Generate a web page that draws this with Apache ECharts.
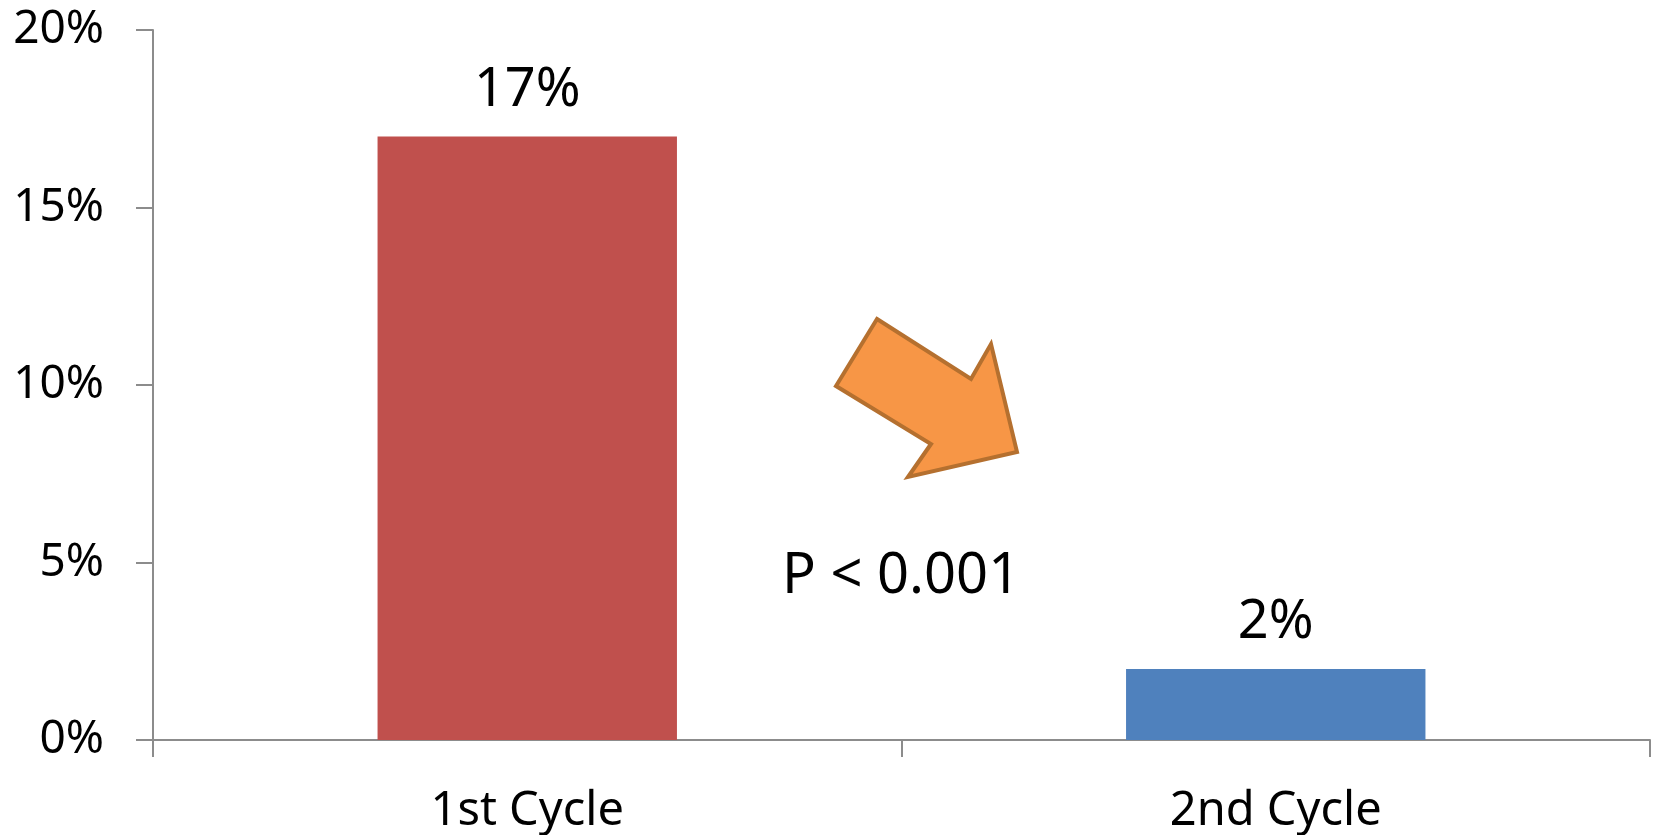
<!DOCTYPE html>
<html>
<head>
<meta charset="utf-8">
<title>Cycle comparison</title>
<script src="https://cdn.jsdelivr.net/npm/echarts@6/dist/echarts.min.js"></script>
<style>
  html, body { margin: 0; padding: 0; background: #ffffff; }
  #chart { width: 1656px; height: 835px; }
</style>
</head>
<body>
<div id="chart"></div>
<script>
// Rates per treatment cycle (percent)
const categories = ['1st Cycle', '2nd Cycle'];
const rates = [17, 2];
const barColors = ['#C0504D', '#4F81BD'];
const yTicks = { min: 0, max: 20, interval: 5 };
const pValueText = 'P < 0.001';

const FONT = '"Noto Sans", "Open Sans", sans-serif';
const AXIS_GREY = '#8c8c8c';

const chart = echarts.init(document.getElementById('chart'), null, { renderer: 'canvas' });

// Block arrow pointing down-right, drawn relative to its own origin
const arrowShape = [
  [41, 0], [135, 60], [155, 25], [181, 133], [72, 158], [95, 125], [0, 67]
];

chart.setOption({
  animation: false,
  backgroundColor: '#ffffff',
  grid: { left: 153, right: 6, top: 30, bottom: 95, containLabel: false },
  xAxis: {
    type: 'category',
    data: categories,
    boundaryGap: true,
    axisLine: { show: true, lineStyle: { color: AXIS_GREY, width: 2 } },
    axisTick: { show: true, length: 17, alignWithLabel: false, lineStyle: { color: AXIS_GREY, width: 2 } },
    axisLabel: { color: '#000000', fontFamily: FONT, fontSize: 47, margin: 48 },
    splitLine: { show: false }
  },
  yAxis: {
    type: 'value',
    min: yTicks.min,
    max: yTicks.max,
    interval: yTicks.interval,
    axisLine: { show: true, lineStyle: { color: AXIS_GREY, width: 2 } },
    axisTick: { show: true, length: 17, lineStyle: { color: AXIS_GREY, width: 2 } },
    axisLabel: { color: '#000000', fontFamily: FONT, fontSize: 46, margin: 49, formatter: '{value}%' },
    splitLine: { show: false }
  },
  series: [{
    type: 'bar',
    barWidth: '40%',
    data: rates.map((v, i) => ({ value: v, itemStyle: { color: barColors[i] } })),
    label: {
      show: true,
      position: 'top',
      distance: 19,
      color: '#000000',
      fontFamily: FONT,
      fontSize: 54,
      formatter: p => p.value + '%'
    }
  }],
  graphic: [
    {
      type: 'polygon',
      x: 836,
      y: 319,
      shape: { points: arrowShape },
      style: { fill: '#F79646', stroke: '#B5702F', lineWidth: 4, lineJoin: 'miter' },
      z: 10
    },
    {
      type: 'text',
      x: 782,
      y: 577,
      style: {
        text: pValueText,
        fill: '#000000',
        font: '56px ' + FONT,
        textAlign: 'left',
        textVerticalAlign: 'middle'
      },
      z: 10
    }
  ]
});
</script>
</body>
</html>
